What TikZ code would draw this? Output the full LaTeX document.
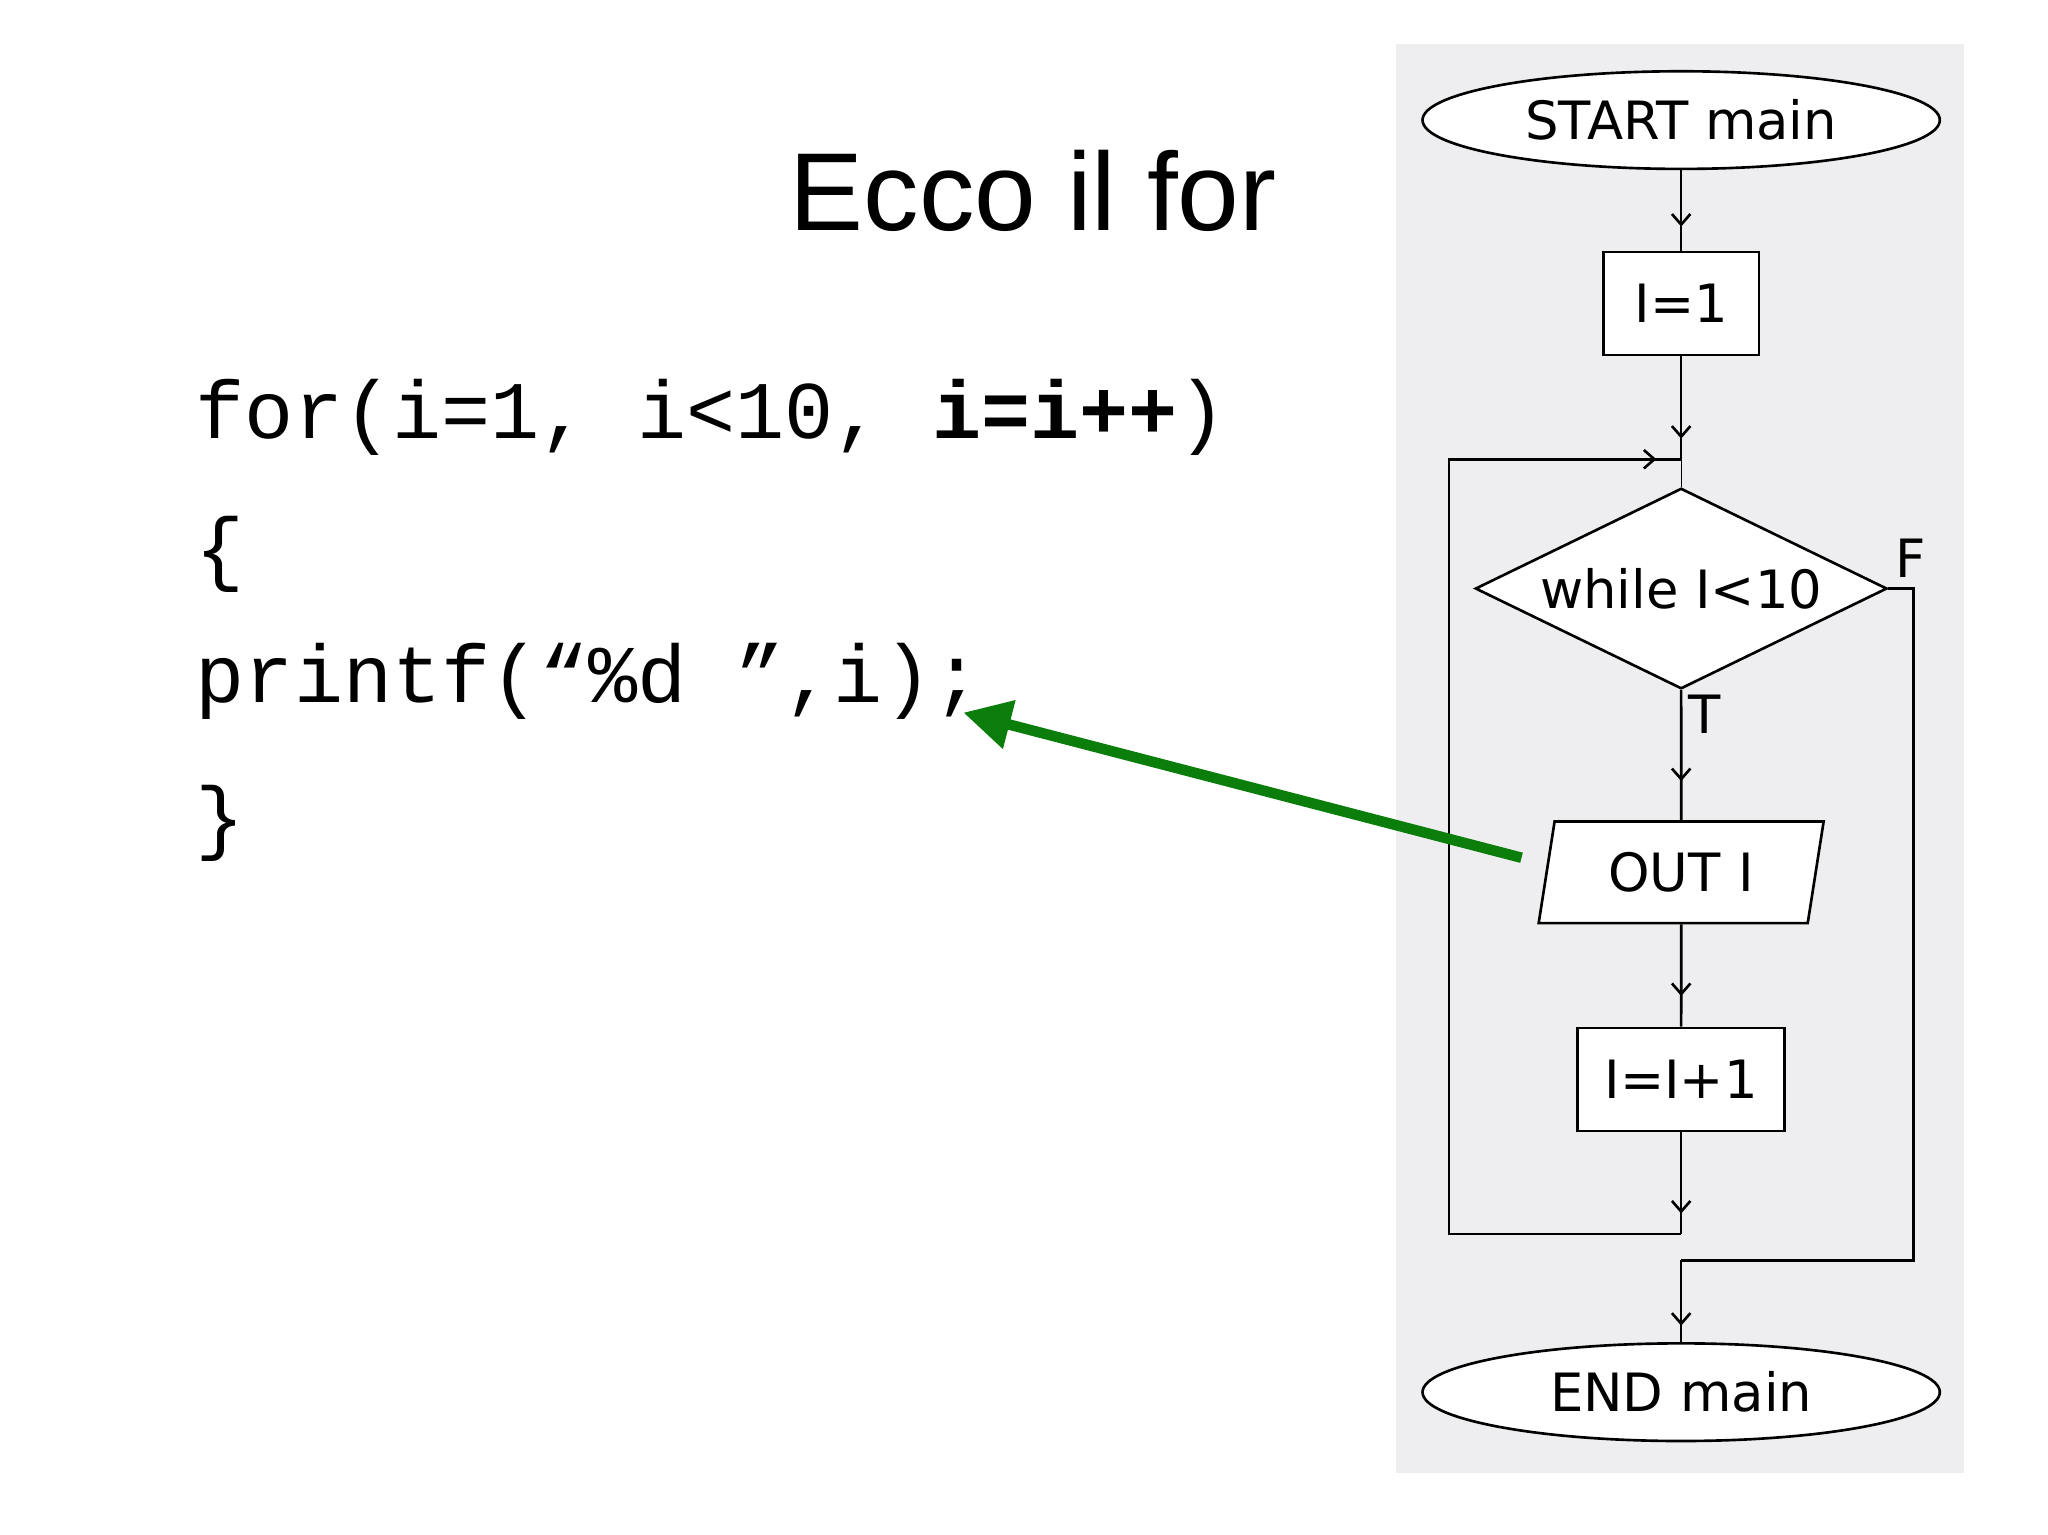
\documentclass[tikz,border=0pt]{standalone}
\usepackage{fontspec}
\setmainfont{Liberation Sans}
\newfontfamily\codefont{Liberation Mono}
\newfontfamily\fcfont{DejaVu Sans}
\usetikzlibrary{shapes.geometric,arrows.meta,decorations.markings}
\begin{document}
\begin{tikzpicture}[x=0.5pt,y=-0.5pt,
  fc/.style={draw=black,line width=1pt,fill=white,font=\fcfont\fontsize{20}{20}\selectfont,inner sep=0pt},
  flow/.style={line width=1pt,postaction={decorate},decoration={markings,mark=at position #1 with {\arrow{Straight Barb[length=4pt,width=7pt]}}}},
  flow/.default=0.7,
  code/.style={anchor=base west,font=\codefont\fontsize{31}{31}\selectfont,inner sep=0pt}]
\useasboundingbox (0,0) rectangle (1552,1163);
\fill[fill={rgb,255:red,238;green,238;blue,240}] (1058,33) rectangle (1488,1116);
\node[anchor=base,font=\fontsize{42}{42}\selectfont] (title) at (783,175) {Ecco il for};
\node[code] (c1) at (148,332) {for(i=1, i<10, \textbf{i=i++})};
\node[code] (c2) at (148,436) {\{};
\node[code] (c3) at (148,532) {printf(“\%d ”,i);};
\node[code] (c4) at (148,640) {\}};
% flowchart
\node[fc,ellipse,minimum width=196pt,minimum height=37pt] (start) at (1274,91) {START main};
\node[fc,rectangle,minimum width=59pt,minimum height=39pt] (i1) at (1274,230) {I=1};
\coordinate (j1) at (1274,348);
\node[fc,diamond,aspect=2.05,minimum width=156pt,minimum height=76pt] (wh) at (1274,446) {while I<10};
\node[fc,trapezium,trapezium left angle=76,trapezium right angle=104,trapezium stretches=true,minimum width=108pt,text width=60pt,align=center,minimum height=38.5pt] (out) at (1274,661) {OUT I};
\node[fc,rectangle,minimum width=78.5pt,minimum height=39pt] (inc) at (1274,818) {I=I+1};
\coordinate (j2) at (1274,935);
\coordinate (j3) at (1274,955);
\node[fc,ellipse,minimum width=196pt,minimum height=37pt] (end) at (1274,1055) {END main};
\draw[flow] (start.south) -- (i1.north);
\draw[flow=0.8] (i1.south) -- (j1);
\draw (j1) -- (wh.north);
\draw[flow] (wh.south) -- (out.north);
\draw[flow] (out.south) -- (inc.north);
\draw[flow=0.8] (inc.south) -- (j2);
\draw[flow=0.98,line width=1pt] (j2) -- (1098,935) -- (1098,348) -- (j1);
\draw[line width=1pt] (wh.east) -- (1450,446) -- (1450,955) -- (j3);
\draw[flow=0.8] (j3) -- (end.north);
\node[font=\fcfont\fontsize{20}{20}\selectfont] (F) at (1448,423) {F};
\node[font=\fcfont\fontsize{20}{20}\selectfont] (T) at (1292,541) {T};
\coordinate (gs) at (1153,650);
\coordinate (ge) at (730,540);
\draw[line width=4pt,draw={rgb,255:red,10;green,125;blue,10},-{Triangle[length=18pt,width=18pt]}] (gs) -- (ge);
\end{tikzpicture}
\end{document}
